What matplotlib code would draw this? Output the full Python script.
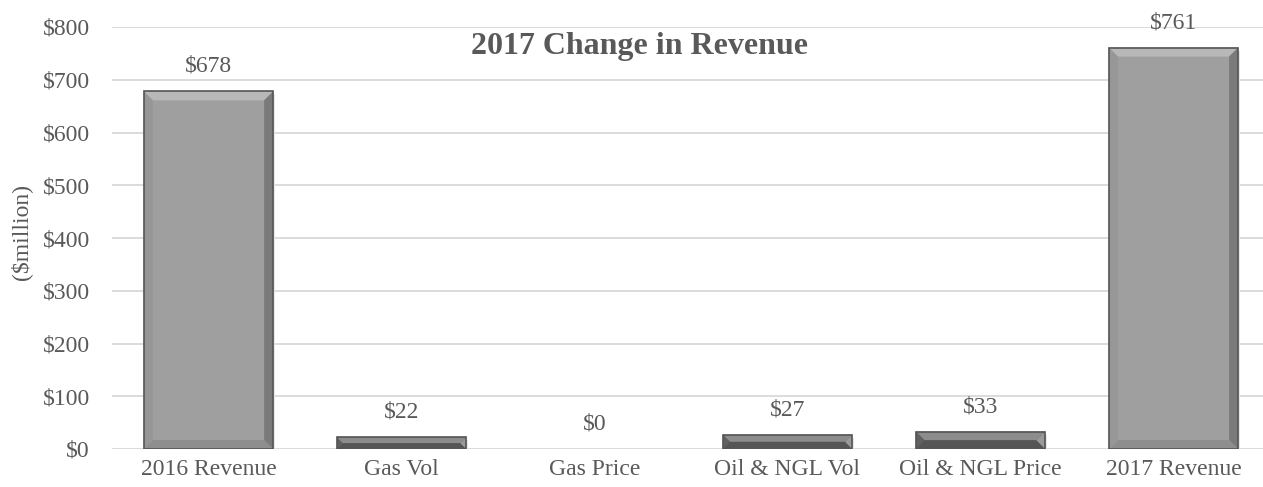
import matplotlib
matplotlib.use("Agg")
import matplotlib.pyplot as plt
from matplotlib.patches import Polygon
from matplotlib.transforms import IdentityTransform

categories = ["2016 Revenue", "Gas Vol", "Gas Price", "Oil & NGL Vol", "Oil & NGL Price", "2017 Revenue"]
values = [678, 22, 0, 27, 33, 761]
labels = ["$678", "$22", "$0", "$27", "$33", "$761"]
yticks = [0, 100, 200, 300, 400, 500, 600, 700, 800]

plt.rcParams['font.family'] = ['Liberation Serif', 'DejaVu Serif']
TXT = '#595959'

fig = plt.figure(figsize=(12.63, 4.87), dpi=100)
ax = fig.add_axes([112/1263, (487-449)/487, 1158/1263, (449-27)/487])

x = list(range(len(categories)))
bars = ax.bar(x, values, width=0.67, color='#9f9f9f', edgecolor='none', zorder=3)
ax.set_xlim(-0.5, len(categories) - 0.5)
ax.set_ylim(0, 800)
ax.set_yticks(yticks)
ax.set_yticklabels([f"${v}" for v in yticks])
ax.set_xticks(x)
ax.set_xticklabels(categories)
ax.tick_params(axis='x', length=0, labelsize=17, colors=TXT, pad=7)
ax.tick_params(axis='y', length=0, labelsize=17, colors=TXT, pad=16)
ax.grid(axis='y', color='#d9d9d9', linewidth=1.3, zorder=0)
for s in ax.spines.values():
    s.set_visible(False)
ax.set_ylabel("($million)", fontsize=17, color=TXT)
ax.yaxis.set_label_coords(-80/1158, 0.515)

for xi, v, lab in zip(x, values, labels):
    ax.annotate(lab, (xi, v), xytext=(0, 18), textcoords='offset points',
                ha='center', va='center', fontsize=17, color=TXT, zorder=4)

fig.text(640/1263, 0.905, "2017 Change in Revenue", ha='center', va='center',
         fontsize=23, fontweight='bold', color=TXT)

# bevel effect on each bar, in pixel space
fig.canvas.draw()
for b in bars:
    if b.get_height() <= 0:
        continue
    bb = b.get_window_extent()
    x0, y0, x1, y1 = bb.x0, bb.y0, bb.x1, bb.y1
    d = min(9, (y1 - y0) / 2, (x1 - x0) / 2)
    ax.add_patch(Polygon([(x0 + 2, y0 - 3), (x1 + 2, y0 - 3), (x1 + 2, y1 - 3), (x0 + 2, y1 - 3)],
                         closed=True, transform=IdentityTransform(), facecolor='#e6e6e6',
                         edgecolor='none', zorder=2))
    small = (y1 - y0) < 30
    polys = [
        ([(x0, y1), (x1, y1), (x1 - d, y1 - d), (x0 + d, y1 - d)], '#8c8c8c' if small else '#b8b8b8'),
        ([(x0, y0), (x1, y0), (x1 - d, y0 + d), (x0 + d, y0 + d)], '#555555' if small else '#8e8e8e'),
        ([(x0, y0), (x0 + d, y0 + d), (x0 + d, y1 - d), (x0, y1)], '#606060' if small else '#979797'),
        ([(x1, y0), (x1 - d, y0 + d), (x1 - d, y1 - d), (x1, y1)], '#9a9a9a' if small else '#7a7a7a'),
    ]
    if small:
        ax.add_patch(Polygon([(x0, y0), (x1, y0), (x1, y1), (x0, y1)], closed=True,
                             transform=IdentityTransform(), facecolor='#5c5c5c',
                             edgecolor='none', zorder=3.4))
    for pts, c in polys:
        ax.add_patch(Polygon(pts, closed=True, transform=IdentityTransform(),
                             facecolor=c, edgecolor='none', zorder=3.5))
    ax.add_patch(Polygon([(x0, y0), (x1, y0), (x1, y1), (x0, y1)], closed=True,
                         transform=IdentityTransform(), facecolor='none',
                         edgecolor='#555555', linewidth=1.2, zorder=3.6))

fig.savefig("out.png", dpi=100)
